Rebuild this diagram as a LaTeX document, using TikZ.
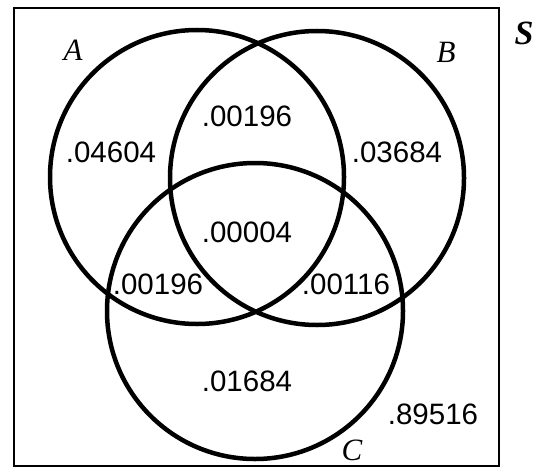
\documentclass[tikz,border=0pt]{standalone}
\usepackage{fontspec}
\setmainfont{Liberation Serif}
\newfontfamily\numfont{Liberation Sans}
\begin{document}
\begin{tikzpicture}[x=1pt,y=-1pt,
  setcircle/.style={draw=black,line width=4.5pt},
  num/.style={font=\numfont\fontsize{29.5}{32}\selectfont,inner sep=0pt},
  setlabel/.style={font=\fontsize{31}{34}\selectfont\itshape,inner sep=0pt}]
\useasboundingbox (0,0) rectangle (534,468);
\node[draw=black,line width=2pt,minimum width=485pt,minimum height=458pt,inner sep=0pt] (S) at (256.5,237) {};
\draw[setcircle] (197,177) circle (147);
\draw[setcircle] (317,178) circle (147);
\draw[setcircle] (255,311) circle (148);
\node[setlabel] (la) at (73,50) {A};
\node[setlabel] (lb) at (446,52) {B};
\node[setlabel] (lc) at (352,450) {C};
\node[font=\fontsize{34}{36}\selectfont\bfseries\itshape,inner sep=0pt] (ls) at (524,33) {S};
\node[num] (n1) at (247,116) {.00196};
\node[num] (n2) at (111,152) {.04604};
\node[num] (n3) at (397,152) {.03684};
\node[num] (n4) at (247,232) {.00004};
\node[num] (n5) at (158,284) {.00196};
\node[num] (n6) at (346,284) {.00116};
\node[num] (n7) at (247,381) {.01684};
\node[num] (n8) at (433,414) {.89516};
\end{tikzpicture}
\end{document}
